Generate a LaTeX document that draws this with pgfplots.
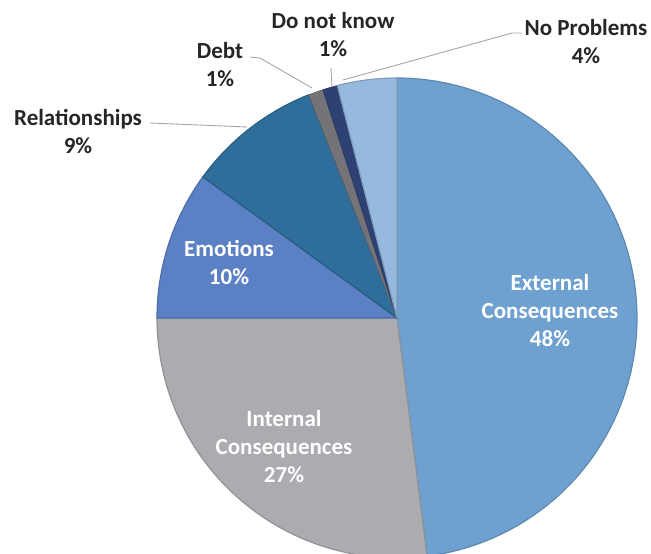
\documentclass[border=0pt]{standalone}
\usepackage{pgfplots}
\pgfplotsset{compat=1.18}
\usepackage{fontspec}
\setmainfont{Carlito}
\definecolor{cExt}{HTML}{6FA1D0}
\definecolor{cInt}{HTML}{AAACB0}
\definecolor{cEmo}{HTML}{5C80C4}
\definecolor{cRel}{HTML}{2F6E9B}
\definecolor{cDebt}{HTML}{737378}
\definecolor{cDnk}{HTML}{2D4173}
\definecolor{cNop}{HTML}{96B9DE}
% percentages (clockwise from 12 o'clock)
\def\pExt{48}\def\pInt{27}\def\pEmo{10}\def\pRel{9}\def\pDebt{1}\def\pDnk{1}\def\pNop{4}
\pgfmathsetmacro\aA{90}
\pgfmathsetmacro\aB{\aA-3.6*\pExt}
\pgfmathsetmacro\aC{\aB-3.6*\pInt}
\pgfmathsetmacro\aD{\aC-3.6*\pEmo}
\pgfmathsetmacro\aE{\aD-3.6*\pRel}
\pgfmathsetmacro\aF{\aE-3.6*\pDebt}
\pgfmathsetmacro\aG{\aF-3.6*\pDnk}
\pgfmathsetmacro\aH{\aG-3.6*\pNop}
\def\cx{397}\def\cy{236}\def\R{240}
\begin{document}%
\begin{tikzpicture}
\begin{axis}[
  scale only axis, width=651pt, height=554pt,
  xmin=0, xmax=651, ymin=0, ymax=554,
  hide axis, clip=true,
]
\path (rel axis cs:0,0) rectangle (rel axis cs:1,1);
\addplot[fill=cExt, draw=cExt!85!black, line width=1.2pt, domain=\aB:\aA, samples=120, variable=\t]
  ({\cx+\R*cos(t)},{\cy+\R*sin(t)}) -- (axis cs:\cx,\cy) -- cycle;
\addplot[fill=cInt, draw=cInt!85!black, line width=1.2pt, domain=\aC:\aB, samples=80, variable=\t]
  ({\cx+\R*cos(t)},{\cy+\R*sin(t)}) -- (axis cs:\cx,\cy) -- cycle;
\addplot[fill=cEmo, draw=cEmo!85!black, line width=1.2pt, domain=\aD:\aC, samples=40, variable=\t]
  ({\cx+\R*cos(t)},{\cy+\R*sin(t)}) -- (axis cs:\cx,\cy) -- cycle;
\addplot[fill=cRel, draw=cRel!85!black, line width=1.2pt, domain=\aE:\aD, samples=40, variable=\t]
  ({\cx+\R*cos(t)},{\cy+\R*sin(t)}) -- (axis cs:\cx,\cy) -- cycle;
\addplot[fill=cDebt, draw=cDebt!85!black, line width=0.6pt, domain=\aF:\aE, samples=10, variable=\t]
  ({\cx+\R*cos(t)},{\cy+\R*sin(t)}) -- (axis cs:\cx,\cy) -- cycle;
\addplot[fill=cDnk, draw=cDnk!85!black, line width=0.6pt, domain=\aG:\aF, samples=10, variable=\t]
  ({\cx+\R*cos(t)},{\cy+\R*sin(t)}) -- (axis cs:\cx,\cy) -- cycle;
\addplot[fill=cNop, draw=cNop!85!black, line width=1.2pt, domain=\aH:\aG, samples=20, variable=\t]
  ({\cx+\R*cos(t)},{\cy+\R*sin(t)}) -- (axis cs:\cx,\cy) -- cycle;
% leader lines
\draw[gray!70, line width=0.9pt] (axis cs:150,431) -- (axis cs:247,427);
\draw[gray!70, line width=0.9pt] (axis cs:250,497) -- (axis cs:260,496) -- (axis cs:312,466);
\draw[gray!70, line width=0.9pt] (axis cs:331,486) -- (axis cs:332,467);
\draw[gray!70, line width=0.9pt] (axis cs:522,521) -- (axis cs:512,521) -- (axis cs:343,474);
% labels
\tikzset{lab/.style={font=\fontsize{23}{28}\selectfont\bfseries, align=center, inner sep=0pt}}
\node[lab, text=white] at (axis cs:550,243) {External\\Consequences\\48\%};
\node[lab, text=white] at (axis cs:284,107) {Internal\\Consequences\\27\%};
\node[lab, text=white] at (axis cs:229,291) {Emotions\\10\%};
\node[lab, text=black!85] at (axis cs:78,422) {Relationships\\9\%};
\node[lab, text=black!85] at (axis cs:220,489) {Debt\\1\%};
\node[lab, text=black!85] at (axis cs:333,519) {Do not know\\1\%};
\node[lab, text=black!85] at (axis cs:586,512) {No Problems\\4\%};
\end{axis}
\end{tikzpicture}%
\end{document}
